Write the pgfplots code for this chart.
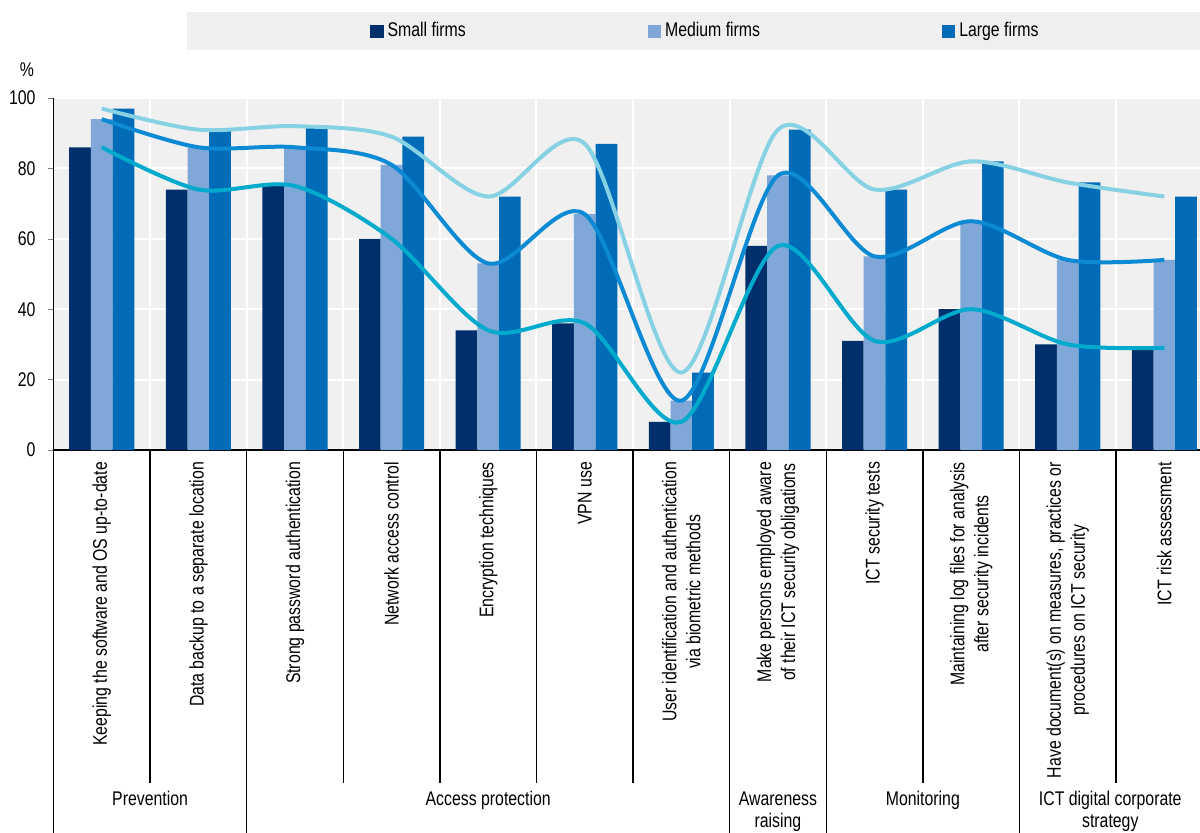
\documentclass[border=0pt]{standalone}
\usepackage{pgfplots}
\pgfplotsset{compat=1.18}
\usepackage{pgfplotstable}
\usepackage{fontspec}
\setmainfont{Liberation Sans}[FakeStretch=0.8]
\definecolor{cSmall}{HTML}{002F6C}
\definecolor{cMedium}{HTML}{7FA7D8}
\definecolor{cLarge}{HTML}{006BB6}
\definecolor{lTop}{HTML}{86D1E4}
\definecolor{lMid}{HTML}{0C8AD4}
\definecolor{lLow}{HTML}{00AACC}
\definecolor{plotbg}{HTML}{F0F0F0}
\definecolor{legbg}{HTML}{EFEFEF}
\pgfplotstableread{
x small medium large
0 86 94 97
1 74 86 91
2 75 86 92
3 60 81 89
4 34 53 72
5 36 67 87
6 8 14 22
7 58 78 91
8 31 55 74
9 40 65 82
10 30 54 76
11 29 54 72
}\datatable
\newcommand{\lfont}{\fontsize{9.9}{12}\selectfont}
\newcommand{\gfont}{\fontsize{9.9}{11}\selectfont}
\begin{document}
\begin{tikzpicture}
\useasboundingbox (0,0) rectangle (600pt,-416.5pt);
\fill[legbg] (93.5pt,-6pt) rectangle (600pt,-25pt);
\node[font=\lfont] at (13.5pt,-35pt) {\%};
\begin{axis}[
  at={(26.75pt,-225pt)}, anchor=south west,
  scale only axis, width=573.25pt, height=176pt,
  xmin=-0.5, xmax=11.369, ymin=0, ymax=100,
  clip=false,
  axis background/.style={fill=plotbg},
  axis x line*=bottom, axis y line*=left,
  axis line style={black, line width=0.9pt},
  tick align=outside,
  major tick length=2.5pt,
  minor tick length=0pt,
  ytick={0,20,40,60,80,100},
  ymajorgrids, major grid style={white, line width=1pt},
  xtick={0,...,11},
  major x tick style={draw=none},
  minor xtick={0.5,1.5,...,10.5},
  xminorgrids, minor grid style={white, line width=1pt},
  /pgf/number format/assume math mode=true,
  yticklabel style={font=\lfont, xshift=-3pt},
  xticklabel style={font=\lfont, rotate=90, anchor=east, align=center},
  xticklabels={
    Keeping the software and OS up-to-date,
    Data backup to a separate location,
    Strong password authentication,
    Network access control,
    Encryption techniques,
    VPN use,
    {User identification and authentication\\via biometric methods},
    {Make persons employed aware\\of their ICT security obligations},
    ICT security tests,
    {Maintaining log files for analysis\\after security incidents},
    {Have document(s) on measures, practices or\\procedures on ICT security},
    ICT risk assessment},
  legend style={at={(rel axis cs:0.276,1.19)}, anchor=west, draw=none, fill=none,
    font=\lfont, inner sep=0pt,
    /tikz/every even column/.append style={column sep=89pt}},
  legend columns=3,
  legend cell align=left,
]
\addplot[ybar, bar width=10.85pt, bar shift=-10.85pt, fill=cSmall, draw=none,
  legend image code/.code={\fill[cSmall] (0pt,-3.3pt) rectangle (6.6pt,3.3pt);}]
  table[x=x, y=small] {\datatable};
\addlegendentry{Small firms}
\addplot[ybar, bar width=10.85pt, bar shift=0pt, fill=cMedium, draw=none,
  legend image code/.code={\fill[cMedium] (0pt,-3.3pt) rectangle (6.6pt,3.3pt);}]
  table[x=x, y=medium] {\datatable};
\addlegendentry{Medium firms}
\addplot[ybar, bar width=10.85pt, bar shift=10.85pt, fill=cLarge, draw=none,
  legend image code/.code={\fill[cLarge] (0pt,-3.3pt) rectangle (6.6pt,3.3pt);}]
  table[x=x, y=large] {\datatable};
\addlegendentry{Large firms}
\addplot[forget plot, smooth, no markers, lTop, line width=2pt] table[x=x, y=large] {\datatable};
\addplot[forget plot, smooth, no markers, lMid, line width=2pt] table[x=x, y=medium] {\datatable};
\addplot[forget plot, smooth, no markers, lLow, line width=2pt] table[x=x, y=small] {\datatable};
% separators below the axis
\draw[black, line width=0.75pt] (axis cs:-0.5,0) -- ++(0pt,-191.5pt);
\draw[black, line width=0.75pt] (axis cs:1.5,0) -- ++(0pt,-191.5pt);
\draw[black, line width=0.75pt] (axis cs:6.5,0) -- ++(0pt,-191.5pt);
\draw[black, line width=0.75pt] (axis cs:7.5,0) -- ++(0pt,-191.5pt);
\draw[black, line width=0.75pt] (axis cs:9.5,0) -- ++(0pt,-191.5pt);
\draw[black, line width=0.75pt] (axis cs:0.5,0) -- ++(0pt,-166.5pt);
\draw[black, line width=0.75pt] (axis cs:2.5,0) -- ++(0pt,-166.5pt);
\draw[black, line width=0.75pt] (axis cs:3.5,0) -- ++(0pt,-166.5pt);
\draw[black, line width=0.75pt] (axis cs:4.5,0) -- ++(0pt,-166.5pt);
\draw[black, line width=0.75pt] (axis cs:5.5,0) -- ++(0pt,-166.5pt);
\draw[black, line width=0.75pt] (axis cs:8.5,0) -- ++(0pt,-166.5pt);
\draw[black, line width=0.75pt] (axis cs:10.5,0) -- ++(0pt,-166.5pt);
% group labels
\node[font=\gfont, anchor=north, align=center, inner sep=0pt] at ([yshift=-170.5pt]axis cs:0.5,0) {Prevention};
\node[font=\gfont, anchor=north, align=center, inner sep=0pt] at ([yshift=-170.5pt]axis cs:4,0) {Access protection};
\node[font=\gfont, anchor=north, align=center, inner sep=0pt] at ([yshift=-170.5pt]axis cs:7,0) {Awareness\\raising};
\node[font=\gfont, anchor=north, align=center, inner sep=0pt] at ([yshift=-170.5pt]axis cs:8.5,0) {Monitoring};
\node[font=\gfont, anchor=north, align=center, inner sep=0pt] at ([yshift=-170.5pt]axis cs:10.44,0) {ICT digital corporate\\strategy};
\end{axis}
\end{tikzpicture}
\end{document}
